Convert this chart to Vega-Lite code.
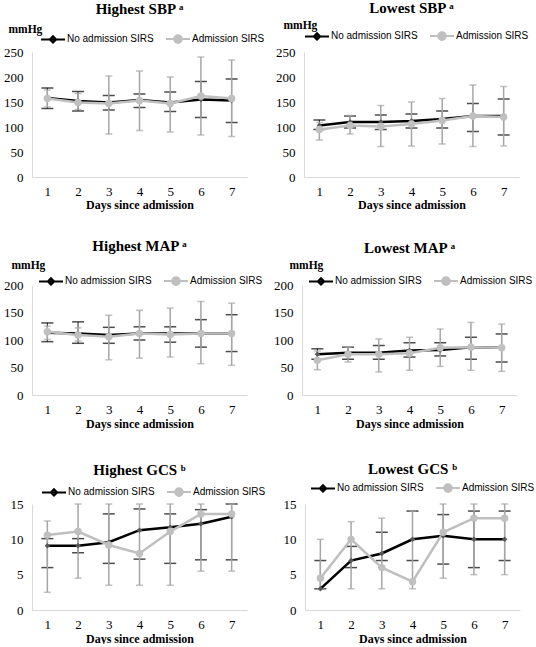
{
  "$schema": "https://vega.github.io/schema/vega-lite/v6.json",
  "padding": {"left": 2, "top": 1, "right": 0, "bottom": 0},
  "datasets": {
    "vitals": [
      {"panel": "HSBP", "day": 1, "group": "No admission SIRS", "mean": 158, "lo": 137, "hi": 178},
      {"panel": "HSBP", "day": 2, "group": "No admission SIRS", "mean": 152, "lo": 132, "hi": 171},
      {"panel": "HSBP", "day": 3, "group": "No admission SIRS", "mean": 149, "lo": 134, "hi": 163},
      {"panel": "HSBP", "day": 4, "group": "No admission SIRS", "mean": 154, "lo": 139, "hi": 166},
      {"panel": "HSBP", "day": 5, "group": "No admission SIRS", "mean": 149, "lo": 131, "hi": 170},
      {"panel": "HSBP", "day": 6, "group": "No admission SIRS", "mean": 155, "lo": 119, "hi": 191},
      {"panel": "HSBP", "day": 7, "group": "No admission SIRS", "mean": 153, "lo": 109, "hi": 196},
      {"panel": "HSBP", "day": 1, "group": "Admission SIRS", "mean": 157, "lo": 140, "hi": 174},
      {"panel": "HSBP", "day": 2, "group": "Admission SIRS", "mean": 149, "lo": 135, "hi": 167},
      {"panel": "HSBP", "day": 3, "group": "Admission SIRS", "mean": 147, "lo": 86, "hi": 202},
      {"panel": "HSBP", "day": 4, "group": "Admission SIRS", "mean": 153, "lo": 93, "hi": 212},
      {"panel": "HSBP", "day": 5, "group": "Admission SIRS", "mean": 147, "lo": 90, "hi": 200},
      {"panel": "HSBP", "day": 6, "group": "Admission SIRS", "mean": 162, "lo": 84, "hi": 240},
      {"panel": "HSBP", "day": 7, "group": "Admission SIRS", "mean": 157, "lo": 81, "hi": 234},

      {"panel": "LSBP", "day": 1, "group": "No admission SIRS", "mean": 103, "lo": 95, "hi": 114},
      {"panel": "LSBP", "day": 2, "group": "No admission SIRS", "mean": 110, "lo": 98, "hi": 122},
      {"panel": "LSBP", "day": 3, "group": "No admission SIRS", "mean": 110, "lo": 95, "hi": 124},
      {"panel": "LSBP", "day": 4, "group": "No admission SIRS", "mean": 112, "lo": 98, "hi": 126},
      {"panel": "LSBP", "day": 5, "group": "No admission SIRS", "mean": 116, "lo": 98, "hi": 132},
      {"panel": "LSBP", "day": 6, "group": "No admission SIRS", "mean": 122, "lo": 91, "hi": 147},
      {"panel": "LSBP", "day": 7, "group": "No admission SIRS", "mean": 122, "lo": 84, "hi": 156},
      {"panel": "LSBP", "day": 1, "group": "Admission SIRS", "mean": 95, "lo": 74, "hi": 109},
      {"panel": "LSBP", "day": 2, "group": "Admission SIRS", "mean": 103, "lo": 86, "hi": 123},
      {"panel": "LSBP", "day": 3, "group": "Admission SIRS", "mean": 101, "lo": 61, "hi": 143},
      {"panel": "LSBP", "day": 4, "group": "Admission SIRS", "mean": 106, "lo": 62, "hi": 150},
      {"panel": "LSBP", "day": 5, "group": "Admission SIRS", "mean": 113, "lo": 66, "hi": 157},
      {"panel": "LSBP", "day": 6, "group": "Admission SIRS", "mean": 122, "lo": 61, "hi": 184},
      {"panel": "LSBP", "day": 7, "group": "Admission SIRS", "mean": 120, "lo": 62, "hi": 181},

      {"panel": "HMAP", "day": 1, "group": "No admission SIRS", "mean": 113, "lo": 97, "hi": 131},
      {"panel": "HMAP", "day": 2, "group": "No admission SIRS", "mean": 112, "lo": 94, "hi": 133},
      {"panel": "HMAP", "day": 3, "group": "No admission SIRS", "mean": 109, "lo": 94, "hi": 123},
      {"panel": "HMAP", "day": 4, "group": "No admission SIRS", "mean": 112, "lo": 100, "hi": 124},
      {"panel": "HMAP", "day": 5, "group": "No admission SIRS", "mean": 112, "lo": 96, "hi": 124},
      {"panel": "HMAP", "day": 6, "group": "No admission SIRS", "mean": 112, "lo": 87, "hi": 137},
      {"panel": "HMAP", "day": 7, "group": "No admission SIRS", "mean": 112, "lo": 79, "hi": 146},
      {"panel": "HMAP", "day": 1, "group": "Admission SIRS", "mean": 115, "lo": 101, "hi": 125},
      {"panel": "HMAP", "day": 2, "group": "Admission SIRS", "mean": 109, "lo": 98, "hi": 122},
      {"panel": "HMAP", "day": 3, "group": "Admission SIRS", "mean": 106, "lo": 64, "hi": 145},
      {"panel": "HMAP", "day": 4, "group": "Admission SIRS", "mean": 112, "lo": 67, "hi": 154},
      {"panel": "HMAP", "day": 5, "group": "Admission SIRS", "mean": 110, "lo": 69, "hi": 158},
      {"panel": "HMAP", "day": 6, "group": "Admission SIRS", "mean": 112, "lo": 57, "hi": 170},
      {"panel": "HMAP", "day": 7, "group": "Admission SIRS", "mean": 112, "lo": 54, "hi": 167},

      {"panel": "LMAP", "day": 1, "group": "No admission SIRS", "mean": 74, "lo": 65, "hi": 84},
      {"panel": "LMAP", "day": 2, "group": "No admission SIRS", "mean": 77, "lo": 65, "hi": 87},
      {"panel": "LMAP", "day": 3, "group": "No admission SIRS", "mean": 77, "lo": 65, "hi": 90},
      {"panel": "LMAP", "day": 4, "group": "No admission SIRS", "mean": 81, "lo": 69, "hi": 95},
      {"panel": "LMAP", "day": 5, "group": "No admission SIRS", "mean": 82, "lo": 71, "hi": 95},
      {"panel": "LMAP", "day": 6, "group": "No admission SIRS", "mean": 87, "lo": 65, "hi": 105},
      {"panel": "LMAP", "day": 7, "group": "No admission SIRS", "mean": 86, "lo": 60, "hi": 111},
      {"panel": "LMAP", "day": 1, "group": "Admission SIRS", "mean": 63, "lo": 46, "hi": 80},
      {"panel": "LMAP", "day": 2, "group": "Admission SIRS", "mean": 74, "lo": 60, "hi": 87},
      {"panel": "LMAP", "day": 3, "group": "Admission SIRS", "mean": 74, "lo": 42, "hi": 102},
      {"panel": "LMAP", "day": 4, "group": "Admission SIRS", "mean": 76, "lo": 45, "hi": 105},
      {"panel": "LMAP", "day": 5, "group": "Admission SIRS", "mean": 86, "lo": 52, "hi": 120},
      {"panel": "LMAP", "day": 6, "group": "Admission SIRS", "mean": 87, "lo": 45, "hi": 132},
      {"panel": "LMAP", "day": 7, "group": "Admission SIRS", "mean": 86, "lo": 43, "hi": 129},

      {"panel": "HGCS", "day": 1, "group": "No admission SIRS", "mean": 9.1, "lo": 6.0, "hi": 10.1},
      {"panel": "HGCS", "day": 2, "group": "No admission SIRS", "mean": 9.1, "lo": 8.1, "hi": 10.1},
      {"panel": "HGCS", "day": 3, "group": "No admission SIRS", "mean": 9.6, "lo": 6.6, "hi": 13.6},
      {"panel": "HGCS", "day": 4, "group": "No admission SIRS", "mean": 11.3, "lo": 7.2, "hi": 14.3},
      {"panel": "HGCS", "day": 5, "group": "No admission SIRS", "mean": 11.7, "lo": 6.6, "hi": 13.6},
      {"panel": "HGCS", "day": 6, "group": "No admission SIRS", "mean": 12.2, "lo": 7.1, "hi": 14.2},
      {"panel": "HGCS", "day": 7, "group": "No admission SIRS", "mean": 13.2, "lo": 7.1, "hi": 15},
      {"panel": "HGCS", "day": 1, "group": "Admission SIRS", "mean": 10.6, "lo": 2.5, "hi": 12.6},
      {"panel": "HGCS", "day": 2, "group": "Admission SIRS", "mean": 11.1, "lo": 4.5, "hi": 15},
      {"panel": "HGCS", "day": 3, "group": "Admission SIRS", "mean": 9.2, "lo": 3.5, "hi": 15},
      {"panel": "HGCS", "day": 4, "group": "Admission SIRS", "mean": 8.0, "lo": 3.5, "hi": 15},
      {"panel": "HGCS", "day": 5, "group": "Admission SIRS", "mean": 11.1, "lo": 3.5, "hi": 15},
      {"panel": "HGCS", "day": 6, "group": "Admission SIRS", "mean": 13.6, "lo": 5.5, "hi": 15},
      {"panel": "HGCS", "day": 7, "group": "Admission SIRS", "mean": 13.6, "lo": 5.5, "hi": 15},

      {"panel": "LGCS", "day": 1, "group": "No admission SIRS", "mean": 3, "lo": 3, "hi": 7},
      {"panel": "LGCS", "day": 2, "group": "No admission SIRS", "mean": 7, "lo": 6, "hi": 9},
      {"panel": "LGCS", "day": 3, "group": "No admission SIRS", "mean": 8, "lo": 7, "hi": 11},
      {"panel": "LGCS", "day": 4, "group": "No admission SIRS", "mean": 10, "lo": 7, "hi": 14},
      {"panel": "LGCS", "day": 5, "group": "No admission SIRS", "mean": 10.5, "lo": 6.5, "hi": 13.5},
      {"panel": "LGCS", "day": 6, "group": "No admission SIRS", "mean": 10, "lo": 6, "hi": 14},
      {"panel": "LGCS", "day": 7, "group": "No admission SIRS", "mean": 10, "lo": 7, "hi": 14},
      {"panel": "LGCS", "day": 1, "group": "Admission SIRS", "mean": 4.5, "lo": 3, "hi": 10},
      {"panel": "LGCS", "day": 2, "group": "Admission SIRS", "mean": 10, "lo": 3, "hi": 12.5},
      {"panel": "LGCS", "day": 3, "group": "Admission SIRS", "mean": 6, "lo": 3, "hi": 13},
      {"panel": "LGCS", "day": 4, "group": "Admission SIRS", "mean": 4, "lo": 3, "hi": 14},
      {"panel": "LGCS", "day": 5, "group": "Admission SIRS", "mean": 11, "lo": 4.5, "hi": 15},
      {"panel": "LGCS", "day": 6, "group": "Admission SIRS", "mean": 13, "lo": 5, "hi": 15},
      {"panel": "LGCS", "day": 7, "group": "Admission SIRS", "mean": 13, "lo": 5, "hi": 15}
    ]
  },
  "data": {"name": "vitals"},
  "spacing": 29,
  "vconcat": [
    {
      "spacing": 9,
      "resolve": {"scale": {"color": "independent"}, "legend": {"color": "independent"}},
      "hconcat": [
        {
          "title": {"text": "Highest SBP ᵃ", "offset": 6},
          "width": 215, "height": 125,
          "transform": [{"filter": "datum.panel === 'HSBP'"}],
          "encoding": {
            "x": {"field": "day", "type": "ordinal", "scale": {"type": "point", "padding": 0.5}, "axis": {"title": "Days since admission", "titlePadding": 1}},
            "y": {"field": "mean", "type": "quantitative", "scale": {"domain": [0, 250], "nice": false}, "axis": {"values": [0, 50, 100, 150, 200, 250], "title": "mmHg", "titleX": -24, "titleY": -23}}
          },
          "layer": [
            {"transform": [{"filter": "datum.group === 'No admission SIRS'"}], "mark": {"type": "rule", "color": "#262626", "strokeWidth": 1}, "encoding": {"y": {"field": "lo", "type": "quantitative"}, "y2": {"field": "hi"}}},
            {"transform": [{"filter": "datum.group === 'No admission SIRS'"}], "mark": {"type": "tick", "color": "#000", "size": 12, "thickness": 1.5}, "encoding": {"y": {"field": "lo", "type": "quantitative"}}},
            {"transform": [{"filter": "datum.group === 'No admission SIRS'"}], "mark": {"type": "tick", "color": "#000", "size": 12, "thickness": 1.5}, "encoding": {"y": {"field": "hi", "type": "quantitative"}}},
            {"transform": [{"filter": "datum.group === 'Admission SIRS'"}], "mark": {"type": "rule", "color": "#a6a6a6", "strokeWidth": 1.5}, "encoding": {"y": {"field": "lo", "type": "quantitative"}, "y2": {"field": "hi"}}},
            {"transform": [{"filter": "datum.group === 'Admission SIRS'"}], "mark": {"type": "tick", "color": "#a6a6a6", "size": 7, "thickness": 1.5}, "encoding": {"y": {"field": "lo", "type": "quantitative"}}},
            {"transform": [{"filter": "datum.group === 'Admission SIRS'"}], "mark": {"type": "tick", "color": "#a6a6a6", "size": 7, "thickness": 1.5}, "encoding": {"y": {"field": "hi", "type": "quantitative"}}},
            {"mark": {"type": "line", "strokeWidth": 2.5}, "encoding": {"color": {"field": "group", "type": "nominal", "scale": {"domain": ["No admission SIRS", "Admission SIRS"], "range": ["#000000", "#bfbfbf"]}, "legend": {"legendX": 10, "legendY": -24, "encode": {"symbols": {"update": {"shape": {"signal": "datum.value === 'No admission SIRS' ? 'M-1.2,0H1.2M0,-0.32L0.32,0L0,0.32L-0.32,0Z' : 'M-1.2,0H1.2M-0.38,0A0.38,0.38 0 1,0 0.38,0A0.38,0.38 0 1,0 -0.38,0Z'"}, "fill": {"signal": "datum.value === 'No admission SIRS' ? '#595959' : '#c0c0c0'"}, "fillOpacity": {"value": 1}}}}}}}},
            {"transform": [{"filter": "datum.group === 'No admission SIRS'"}], "mark": {"type": "point", "shape": "diamond", "filled": true, "color": "#595959", "size": 30, "opacity": 1}},
            {"transform": [{"filter": "datum.group === 'Admission SIRS'"}], "mark": {"type": "point", "shape": "circle", "filled": true, "color": "#c0c0c0", "size": 55, "opacity": 1}}
          ]
        },
        {
          "title": {"text": "Lowest SBP ᵃ", "offset": 3},
          "width": 215, "height": 125,
          "transform": [{"filter": "datum.panel === 'LSBP'"}],
          "encoding": {
            "x": {"field": "day", "type": "ordinal", "scale": {"type": "point", "padding": 0.5}, "axis": {"title": "Days since admission", "titlePadding": 1}},
            "y": {"field": "mean", "type": "quantitative", "scale": {"domain": [0, 250], "nice": false}, "axis": {"values": [0, 50, 100, 150, 200, 250], "title": "mmHg", "titleX": -21, "titleY": -27}}
          },
          "layer": [
            {"transform": [{"filter": "datum.group === 'No admission SIRS'"}], "mark": {"type": "rule", "color": "#262626", "strokeWidth": 1}, "encoding": {"y": {"field": "lo", "type": "quantitative"}, "y2": {"field": "hi"}}},
            {"transform": [{"filter": "datum.group === 'No admission SIRS'"}], "mark": {"type": "tick", "color": "#000", "size": 12, "thickness": 1.5}, "encoding": {"y": {"field": "lo", "type": "quantitative"}}},
            {"transform": [{"filter": "datum.group === 'No admission SIRS'"}], "mark": {"type": "tick", "color": "#000", "size": 12, "thickness": 1.5}, "encoding": {"y": {"field": "hi", "type": "quantitative"}}},
            {"transform": [{"filter": "datum.group === 'Admission SIRS'"}], "mark": {"type": "rule", "color": "#a6a6a6", "strokeWidth": 1.5}, "encoding": {"y": {"field": "lo", "type": "quantitative"}, "y2": {"field": "hi"}}},
            {"transform": [{"filter": "datum.group === 'Admission SIRS'"}], "mark": {"type": "tick", "color": "#a6a6a6", "size": 7, "thickness": 1.5}, "encoding": {"y": {"field": "lo", "type": "quantitative"}}},
            {"transform": [{"filter": "datum.group === 'Admission SIRS'"}], "mark": {"type": "tick", "color": "#a6a6a6", "size": 7, "thickness": 1.5}, "encoding": {"y": {"field": "hi", "type": "quantitative"}}},
            {"mark": {"type": "line", "strokeWidth": 2.5}, "encoding": {"color": {"field": "group", "type": "nominal", "scale": {"domain": ["No admission SIRS", "Admission SIRS"], "range": ["#000000", "#bfbfbf"]}, "legend": {"legendX": 2, "legendY": -27, "encode": {"symbols": {"update": {"shape": {"signal": "datum.value === 'No admission SIRS' ? 'M-1.2,0H1.2M0,-0.32L0.32,0L0,0.32L-0.32,0Z' : 'M-1.2,0H1.2M-0.38,0A0.38,0.38 0 1,0 0.38,0A0.38,0.38 0 1,0 -0.38,0Z'"}, "fill": {"signal": "datum.value === 'No admission SIRS' ? '#595959' : '#c0c0c0'"}, "fillOpacity": {"value": 1}}}}}}}},
            {"transform": [{"filter": "datum.group === 'No admission SIRS'"}], "mark": {"type": "point", "shape": "diamond", "filled": true, "color": "#595959", "size": 30, "opacity": 1}},
            {"transform": [{"filter": "datum.group === 'Admission SIRS'"}], "mark": {"type": "point", "shape": "circle", "filled": true, "color": "#c0c0c0", "size": 55, "opacity": 1}}
          ]
        }
      ]
    },
    {
      "spacing": 33,
      "vconcat": [
        {
          "spacing": 9,
          "resolve": {"scale": {"color": "independent"}, "legend": {"color": "independent"}},
          "hconcat": [
            {
              "title": {"text": "Highest MAP ᵃ", "offset": 5},
              "width": 215, "height": 110,
              "transform": [{"filter": "datum.panel === 'HMAP'"}],
              "encoding": {
                "x": {"field": "day", "type": "ordinal", "scale": {"type": "point", "padding": 0.5}, "axis": {"title": "Days since admission", "titlePadding": 2, "labelPadding": 8}},
                "y": {"field": "mean", "type": "quantitative", "scale": {"domain": [0, 200], "nice": false}, "axis": {"values": [0, 50, 100, 150, 200], "title": "mmHg", "titleX": -21, "titleY": -20}}
              },
              "layer": [
                {"transform": [{"filter": "datum.group === 'No admission SIRS'"}], "mark": {"type": "rule", "color": "#262626", "strokeWidth": 1}, "encoding": {"y": {"field": "lo", "type": "quantitative"}, "y2": {"field": "hi"}}},
                {"transform": [{"filter": "datum.group === 'No admission SIRS'"}], "mark": {"type": "tick", "color": "#000", "size": 12, "thickness": 1.5}, "encoding": {"y": {"field": "lo", "type": "quantitative"}}},
                {"transform": [{"filter": "datum.group === 'No admission SIRS'"}], "mark": {"type": "tick", "color": "#000", "size": 12, "thickness": 1.5}, "encoding": {"y": {"field": "hi", "type": "quantitative"}}},
                {"transform": [{"filter": "datum.group === 'Admission SIRS'"}], "mark": {"type": "rule", "color": "#a6a6a6", "strokeWidth": 1.5}, "encoding": {"y": {"field": "lo", "type": "quantitative"}, "y2": {"field": "hi"}}},
                {"transform": [{"filter": "datum.group === 'Admission SIRS'"}], "mark": {"type": "tick", "color": "#a6a6a6", "size": 7, "thickness": 1.5}, "encoding": {"y": {"field": "lo", "type": "quantitative"}}},
                {"transform": [{"filter": "datum.group === 'Admission SIRS'"}], "mark": {"type": "tick", "color": "#a6a6a6", "size": 7, "thickness": 1.5}, "encoding": {"y": {"field": "hi", "type": "quantitative"}}},
                {"mark": {"type": "line", "strokeWidth": 2.5}, "encoding": {"color": {"field": "group", "type": "nominal", "scale": {"domain": ["No admission SIRS", "Admission SIRS"], "range": ["#000000", "#bfbfbf"]}, "legend": {"legendX": 8, "legendY": -15, "encode": {"symbols": {"update": {"shape": {"signal": "datum.value === 'No admission SIRS' ? 'M-1.2,0H1.2M0,-0.32L0.32,0L0,0.32L-0.32,0Z' : 'M-1.2,0H1.2M-0.38,0A0.38,0.38 0 1,0 0.38,0A0.38,0.38 0 1,0 -0.38,0Z'"}, "fill": {"signal": "datum.value === 'No admission SIRS' ? '#595959' : '#c0c0c0'"}, "fillOpacity": {"value": 1}}}}}}}},
                {"transform": [{"filter": "datum.group === 'No admission SIRS'"}], "mark": {"type": "point", "shape": "diamond", "filled": true, "color": "#595959", "size": 30, "opacity": 1}},
                {"transform": [{"filter": "datum.group === 'Admission SIRS'"}], "mark": {"type": "point", "shape": "circle", "filled": true, "color": "#c0c0c0", "size": 55, "opacity": 1}}
              ]
            },
            {
              "title": {"text": "Lowest MAP ᵃ", "offset": 3},
              "width": 215, "height": 110,
              "transform": [{"filter": "datum.panel === 'LMAP'"}],
              "encoding": {
                "x": {"field": "day", "type": "ordinal", "scale": {"type": "point", "padding": 0.5}, "axis": {"title": "Days since admission", "titlePadding": 2, "labelPadding": 8}},
                "y": {"field": "mean", "type": "quantitative", "scale": {"domain": [0, 200], "nice": false}, "axis": {"values": [0, 50, 100, 150, 200], "title": "mmHg", "titleX": -13, "titleY": -20}}
              },
              "layer": [
                {"transform": [{"filter": "datum.group === 'No admission SIRS'"}], "mark": {"type": "rule", "color": "#262626", "strokeWidth": 1}, "encoding": {"y": {"field": "lo", "type": "quantitative"}, "y2": {"field": "hi"}}},
                {"transform": [{"filter": "datum.group === 'No admission SIRS'"}], "mark": {"type": "tick", "color": "#000", "size": 12, "thickness": 1.5}, "encoding": {"y": {"field": "lo", "type": "quantitative"}}},
                {"transform": [{"filter": "datum.group === 'No admission SIRS'"}], "mark": {"type": "tick", "color": "#000", "size": 12, "thickness": 1.5}, "encoding": {"y": {"field": "hi", "type": "quantitative"}}},
                {"transform": [{"filter": "datum.group === 'Admission SIRS'"}], "mark": {"type": "rule", "color": "#a6a6a6", "strokeWidth": 1.5}, "encoding": {"y": {"field": "lo", "type": "quantitative"}, "y2": {"field": "hi"}}},
                {"transform": [{"filter": "datum.group === 'Admission SIRS'"}], "mark": {"type": "tick", "color": "#a6a6a6", "size": 7, "thickness": 1.5}, "encoding": {"y": {"field": "lo", "type": "quantitative"}}},
                {"transform": [{"filter": "datum.group === 'Admission SIRS'"}], "mark": {"type": "tick", "color": "#a6a6a6", "size": 7, "thickness": 1.5}, "encoding": {"y": {"field": "hi", "type": "quantitative"}}},
                {"mark": {"type": "line", "strokeWidth": 2.5}, "encoding": {"color": {"field": "group", "type": "nominal", "scale": {"domain": ["No admission SIRS", "Admission SIRS"], "range": ["#000000", "#bfbfbf"]}, "legend": {"legendX": 8, "legendY": -15, "encode": {"symbols": {"update": {"shape": {"signal": "datum.value === 'No admission SIRS' ? 'M-1.2,0H1.2M0,-0.32L0.32,0L0,0.32L-0.32,0Z' : 'M-1.2,0H1.2M-0.38,0A0.38,0.38 0 1,0 0.38,0A0.38,0.38 0 1,0 -0.38,0Z'"}, "fill": {"signal": "datum.value === 'No admission SIRS' ? '#595959' : '#c0c0c0'"}, "fillOpacity": {"value": 1}}}}}}}},
                {"transform": [{"filter": "datum.group === 'No admission SIRS'"}], "mark": {"type": "point", "shape": "diamond", "filled": true, "color": "#595959", "size": 30, "opacity": 1}},
                {"transform": [{"filter": "datum.group === 'Admission SIRS'"}], "mark": {"type": "point", "shape": "circle", "filled": true, "color": "#c0c0c0", "size": 55, "opacity": 1}}
              ]
            }
          ]
        },
        {
          "spacing": 9,
          "resolve": {"scale": {"color": "independent"}, "legend": {"color": "independent"}},
          "hconcat": [
            {
              "title": {"text": "Highest GCS ᵇ", "offset": 3},
              "width": 215, "height": 106,
              "transform": [{"filter": "datum.panel === 'HGCS'"}],
              "encoding": {
                "x": {"field": "day", "type": "ordinal", "scale": {"type": "point", "padding": 0.5}, "axis": {"title": "Days since admission", "titlePadding": 2, "labelPadding": 8}},
                "y": {"field": "mean", "type": "quantitative", "scale": {"domain": [0, 15], "nice": false}, "axis": {"values": [0, 5, 10, 15], "title": null}}
              },
              "layer": [
                {"transform": [{"filter": "datum.group === 'No admission SIRS'"}], "mark": {"type": "rule", "color": "#262626", "strokeWidth": 1}, "encoding": {"y": {"field": "lo", "type": "quantitative"}, "y2": {"field": "hi"}}},
                {"transform": [{"filter": "datum.group === 'No admission SIRS'"}], "mark": {"type": "tick", "color": "#000", "size": 12, "thickness": 1.5}, "encoding": {"y": {"field": "lo", "type": "quantitative"}}},
                {"transform": [{"filter": "datum.group === 'No admission SIRS'"}], "mark": {"type": "tick", "color": "#000", "size": 12, "thickness": 1.5}, "encoding": {"y": {"field": "hi", "type": "quantitative"}}},
                {"transform": [{"filter": "datum.group === 'Admission SIRS'"}], "mark": {"type": "rule", "color": "#a6a6a6", "strokeWidth": 1.5}, "encoding": {"y": {"field": "lo", "type": "quantitative"}, "y2": {"field": "hi"}}},
                {"transform": [{"filter": "datum.group === 'Admission SIRS'"}], "mark": {"type": "tick", "color": "#a6a6a6", "size": 7, "thickness": 1.5}, "encoding": {"y": {"field": "lo", "type": "quantitative"}}},
                {"transform": [{"filter": "datum.group === 'Admission SIRS'"}], "mark": {"type": "tick", "color": "#a6a6a6", "size": 7, "thickness": 1.5}, "encoding": {"y": {"field": "hi", "type": "quantitative"}}},
                {"mark": {"type": "line", "strokeWidth": 2.5}, "encoding": {"color": {"field": "group", "type": "nominal", "scale": {"domain": ["No admission SIRS", "Admission SIRS"], "range": ["#000000", "#bfbfbf"]}, "legend": {"legendX": 11, "legendY": -23, "encode": {"symbols": {"update": {"shape": {"signal": "datum.value === 'No admission SIRS' ? 'M-1.2,0H1.2M0,-0.32L0.32,0L0,0.32L-0.32,0Z' : 'M-1.2,0H1.2M-0.38,0A0.38,0.38 0 1,0 0.38,0A0.38,0.38 0 1,0 -0.38,0Z'"}, "fill": {"signal": "datum.value === 'No admission SIRS' ? '#595959' : '#c0c0c0'"}, "fillOpacity": {"value": 1}}}}}}}},
                {"transform": [{"filter": "datum.group === 'No admission SIRS'"}], "mark": {"type": "point", "shape": "diamond", "filled": true, "color": "#595959", "size": 30, "opacity": 1}},
                {"transform": [{"filter": "datum.group === 'Admission SIRS'"}], "mark": {"type": "point", "shape": "circle", "filled": true, "color": "#c0c0c0", "size": 55, "opacity": 1}}
              ]
            },
            {
              "title": {"text": "Lowest GCS ᵇ", "offset": 0},
              "width": 215, "height": 106,
              "transform": [{"filter": "datum.panel === 'LGCS'"}],
              "encoding": {
                "x": {"field": "day", "type": "ordinal", "scale": {"type": "point", "padding": 0.5}, "axis": {"title": "Days since admission", "titlePadding": 2, "labelPadding": 8}},
                "y": {"field": "mean", "type": "quantitative", "scale": {"domain": [0, 15], "nice": false}, "axis": {"values": [0, 5, 10, 15], "title": null}}
              },
              "layer": [
                {"transform": [{"filter": "datum.group === 'No admission SIRS'"}], "mark": {"type": "rule", "color": "#262626", "strokeWidth": 1}, "encoding": {"y": {"field": "lo", "type": "quantitative"}, "y2": {"field": "hi"}}},
                {"transform": [{"filter": "datum.group === 'No admission SIRS'"}], "mark": {"type": "tick", "color": "#000", "size": 12, "thickness": 1.5}, "encoding": {"y": {"field": "lo", "type": "quantitative"}}},
                {"transform": [{"filter": "datum.group === 'No admission SIRS'"}], "mark": {"type": "tick", "color": "#000", "size": 12, "thickness": 1.5}, "encoding": {"y": {"field": "hi", "type": "quantitative"}}},
                {"transform": [{"filter": "datum.group === 'Admission SIRS'"}], "mark": {"type": "rule", "color": "#a6a6a6", "strokeWidth": 1.5}, "encoding": {"y": {"field": "lo", "type": "quantitative"}, "y2": {"field": "hi"}}},
                {"transform": [{"filter": "datum.group === 'Admission SIRS'"}], "mark": {"type": "tick", "color": "#a6a6a6", "size": 7, "thickness": 1.5}, "encoding": {"y": {"field": "lo", "type": "quantitative"}}},
                {"transform": [{"filter": "datum.group === 'Admission SIRS'"}], "mark": {"type": "tick", "color": "#a6a6a6", "size": 7, "thickness": 1.5}, "encoding": {"y": {"field": "hi", "type": "quantitative"}}},
                {"mark": {"type": "line", "strokeWidth": 2.5}, "encoding": {"color": {"field": "group", "type": "nominal", "scale": {"domain": ["No admission SIRS", "Admission SIRS"], "range": ["#000000", "#bfbfbf"]}, "legend": {"legendX": 7, "legendY": -27, "encode": {"symbols": {"update": {"shape": {"signal": "datum.value === 'No admission SIRS' ? 'M-1.2,0H1.2M0,-0.32L0.32,0L0,0.32L-0.32,0Z' : 'M-1.2,0H1.2M-0.38,0A0.38,0.38 0 1,0 0.38,0A0.38,0.38 0 1,0 -0.38,0Z'"}, "fill": {"signal": "datum.value === 'No admission SIRS' ? '#595959' : '#c0c0c0'"}, "fillOpacity": {"value": 1}}}}}}}},
                {"transform": [{"filter": "datum.group === 'No admission SIRS'"}], "mark": {"type": "point", "shape": "diamond", "filled": true, "color": "#595959", "size": 30, "opacity": 1}},
                {"transform": [{"filter": "datum.group === 'Admission SIRS'"}], "mark": {"type": "point", "shape": "circle", "filled": true, "color": "#c0c0c0", "size": 55, "opacity": 1}}
              ]
            }
          ]
        }
      ]
    }
  ],
  "config": {
    "view": {"stroke": null},
    "axis": {"domainColor": "#d9d9d9", "domainWidth": 1, "ticks": false, "grid": false, "labelFont": "Liberation Serif", "labelFontSize": 13, "labelColor": "#000", "titleFont": "Liberation Serif", "titleFontWeight": "bold", "titleFontSize": 12, "titleColor": "#000"},
    "axisX": {"labelAngle": 0, "labelPadding": 8},
    "axisY": {"labelPadding": 9, "minExtent": 30, "maxExtent": 30, "titleAngle": 0, "titleAlign": "left", "titleBaseline": "middle", "titleFontSize": 11.5},
    "title": {"font": "Liberation Serif", "fontSize": 15, "fontWeight": "bold", "color": "#000", "anchor": "middle"},
    "legend": {
      "orient": "none", "direction": "horizontal", "title": null,
      "labelFont": "Liberation Sans", "labelFontSize": 10, "labelColor": "#000",
      "symbolStrokeWidth": 2, "symbolSize": 400, "columnPadding": 8, "labelOffset": 3, "padding": 0,
      "symbolType": "M-1.2,0H1.2"
    }
  }
}
